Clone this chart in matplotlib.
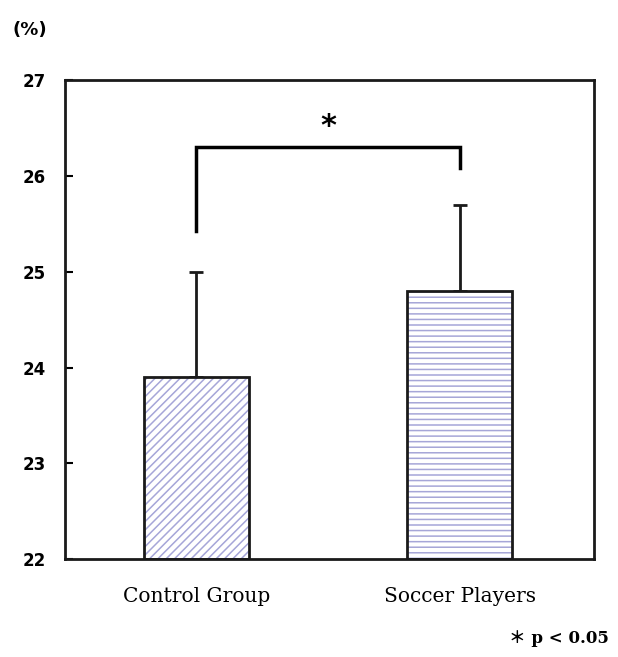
import matplotlib.pyplot as plt

# values
groups = ["Control Group", "Soccer Players"]
means = [23.9, 24.8]
sds = [1.1, 0.9]
hatches = ["////", "---"]
bracket_y = 26.3
bracket_left_bottom = 25.43
bracket_right_bottom = 26.08
yticks = [22, 23, 24, 25, 26, 27]

hatch_color = "#a6a6d8"
plt.rcParams["hatch.linewidth"] = 1.1

fig = plt.figure(figsize=(6.18, 6.57), dpi=100)
ax = fig.add_axes([0.105, 0.149, 0.856, 0.729])

x = [0, 1]
for xi, m, h in zip(x, means, hatches):
    # hatch fill (hatch takes the edge colour), then a black outline on top
    ax.bar(xi, m - 22, bottom=22, width=0.4, color="white", edgecolor=hatch_color,
           linewidth=0, hatch=h, zorder=2)
    ax.bar(xi, m - 22, bottom=22, width=0.4, fill=False, edgecolor="#1a1a1a",
           linewidth=2, zorder=3)

# upper half error bars only
ax.errorbar(x, means, yerr=[[0, 0], sds], fmt="none", ecolor="#1a1a1a",
            elinewidth=2, capsize=5, capthick=2, zorder=1)

# significance bracket
ax.plot([0, 0, 1, 1],
        [bracket_left_bottom, bracket_y, bracket_y, bracket_right_bottom],
        color="black", lw=2.5, solid_joinstyle="miter", zorder=4)
ax.text(0.5, bracket_y + 0.07, "*", ha="center", va="bottom", fontsize=22,
        fontweight="bold", family="DejaVu Sans")

ax.set_xlim(-0.499, 1.51)
ax.set_ylim(22, 27)
ax.set_yticks(yticks)
ax.set_xticks(x)
ax.set_xticklabels(groups, family="DejaVu Serif", fontsize=14.5)
ax.tick_params(axis="x", length=0, pad=20)
ax.tick_params(axis="y", direction="in", length=6, width=1.5, pad=14,
               labelsize=12)
for lbl in ax.get_yticklabels():
    lbl.set_fontweight("bold")
for s in ax.spines.values():
    s.set_linewidth(2)
    s.set_color("#1a1a1a")

fig.text(0.02, 0.955, "(%)", fontsize=13, fontweight="bold", va="center")
fig.text(0.985, 0.015, "＊ p < 0.05", fontsize=12, fontweight="bold",
         family=["DejaVu Serif", "Noto Sans CJK JP"], ha="right", va="bottom")

fig.savefig("out.png", dpi=100)
